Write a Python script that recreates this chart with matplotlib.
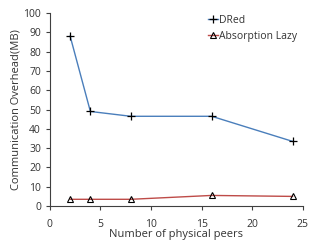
import matplotlib
matplotlib.use("Agg")
import matplotlib.pyplot as plt

peers = [2, 4, 8, 16, 24]
dred = [88, 49, 46.5, 46.5, 33.5]
absorption_lazy = [3.5, 3.5, 3.5, 5.5, 5.0]

plt.rcParams['font.family'] = ['Open Sans', 'DejaVu Sans']
fig = plt.figure(figsize=(3.14, 2.41), dpi=100)
ax = fig.add_axes([0.159, 0.145, 0.805, 0.801])

ax.plot(peers, dred, color='#4a7ebb', lw=1.0, marker='+', ms=6, mec='black', mew=0.9, label='DRed')
ax.plot(peers, absorption_lazy, color='#be4b48', lw=1.0, marker='^', ms=5, mfc='none', mec='black', mew=0.8, label='Absorption Lazy')

ax.set_xlim(0, 25)
ax.set_ylim(0, 100)
ax.set_xticks([0, 5, 10, 15, 20, 25])
ax.set_yticks(range(0, 101, 10))
ax.spines['top'].set_visible(False)
ax.spines['right'].set_visible(False)
for s in ('left', 'bottom'):
    ax.spines[s].set_color('#404040')
    ax.spines[s].set_linewidth(0.8)
ax.tick_params(axis='both', labelsize=7.5, colors='#404040', length=3, width=0.8, labelcolor='#333333')
ax.tick_params(axis='x', pad=6)
ax.set_xlabel('Number of physical peers', fontsize=8, color='#333333', labelpad=-0.5)
ax.set_ylabel('Communication Overhead(MB)', fontsize=8, color='#333333', labelpad=1)

leg = ax.legend(loc='upper left', bbox_to_anchor=(0.59, 1.04), frameon=False, fontsize=7.5,
                handlelength=0.9, handletextpad=0.1, labelspacing=0.5)
for t in leg.get_texts():
    t.set_color('#333333')

fig.savefig('out.png', dpi=100)
